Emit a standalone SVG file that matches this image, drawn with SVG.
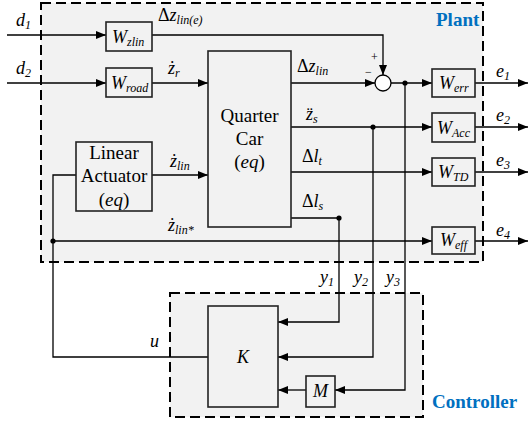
<svg xmlns="http://www.w3.org/2000/svg" width="529" height="425" viewBox="0 0 529 425">
<style>
.frame{fill:#f2f2f2;stroke:#000;stroke-width:2;stroke-dasharray:10,5}
.blk{fill:#f2f2f2;stroke:#222;stroke-width:1.6}
.ln{fill:none;stroke:#000;stroke-width:1.3}
.arr{marker-end:url(#ah)}
.v{font-size:18px;font-style:italic}
.n{font-size:19px}
.s{font-size:12px;font-style:italic}
.t{font-size:19px;font-weight:bold;fill:#0070C0}
.pm{font-size:12px}
</style>
<defs>
<marker id="ah" viewBox="0 0 10 8" refX="10" refY="4" markerWidth="10" markerHeight="8" markerUnits="userSpaceOnUse" orient="auto">
<path d="M0,0 L10,4 L0,8 z" fill="#000"/>
</marker>
</defs>
<rect class="frame" x="41" y="3" width="442" height="259"/>
<rect class="frame" x="170" y="293" width="253" height="124"/>

<g id="connectors">
<line class="ln arr" x1="7" y1="35" x2="106" y2="35"/>
<line class="ln arr" x1="7" y1="83" x2="106" y2="83"/>
<polyline class="ln arr" points="152,35 383,35 383,75"/>
<line class="ln arr" x1="152" y1="83" x2="208" y2="83"/>
<line class="ln arr" x1="152" y1="175" x2="208" y2="175"/>
<line class="ln arr" x1="291" y1="83" x2="375" y2="83"/>
<line class="ln arr" x1="391" y1="83" x2="432" y2="83"/>
<line class="ln arr" x1="475" y1="83" x2="528" y2="83"/>
<line class="ln arr" x1="291" y1="127" x2="432" y2="127"/>
<line class="ln arr" x1="475" y1="127" x2="528" y2="127"/>
<line class="ln arr" x1="291" y1="172" x2="432" y2="172"/>
<line class="ln arr" x1="475" y1="172" x2="528" y2="172"/>
<line class="ln arr" x1="53" y1="241" x2="432" y2="241"/>
<line class="ln arr" x1="475" y1="241" x2="528" y2="241"/>
<polyline class="ln arr" points="291,218 339,218 339,322 278,322"/>
<polyline class="ln arr" points="373,127 373,357 278,357"/>
<polyline class="ln arr" points="405,83 405,390 335,390"/>
<line class="ln arr" x1="306" y1="390" x2="278" y2="390"/>
<polyline class="ln" points="208,357 53,357 53,175 76,175"/>
<circle cx="405" cy="83" r="2.6" fill="#000"/>
<circle cx="373" cy="127" r="2.6" fill="#000"/>
<circle cx="339" cy="218" r="2.6" fill="#000"/>
<circle cx="53" cy="241" r="2.6" fill="#000"/>
</g>

<g font-family="'Liberation Serif', 'Times New Roman', serif" fill="#000">
<text class="t" x="436" y="26">Plant</text>
<text class="t" x="432" y="408">Controller</text>

<g id="inputs">
<text class="v" x="16" y="26">d<tspan class="s" dy="3">1</tspan></text>
<text class="v" x="16" y="74">d<tspan class="s" dy="3">2</tspan></text>
</g>

<g id="Wzlin">
<rect class="blk" x="106" y="22" width="46" height="29"/>
<text class="v" x="112" y="43">W<tspan class="s" dy="3">zlin</tspan></text>
</g>
<text class="v" x="158" y="21"><tspan font-style="normal">Δ</tspan>z<tspan class="s" dy="3">lin(e)</tspan></text>

<g id="Wroad">
<rect class="blk" x="106" y="68" width="46" height="29"/>
<text class="v" x="111" y="89">W<tspan class="s" dy="3">road</tspan></text>
</g>
<text class="v" x="168" y="74">ż<tspan class="s" dy="3">r</tspan></text>

<g id="LinearActuator">
<rect class="blk" x="76" y="142" width="76" height="69"/>
<text class="n" x="114" y="159" text-anchor="middle">Linear</text>
<text class="n" x="114" y="182" text-anchor="middle">Actuator</text>
<text class="n" x="114" y="206" text-anchor="middle">(<tspan font-style="italic">eq</tspan>)</text>
</g>
<text class="v" x="170" y="167">ż<tspan class="s" dy="3">lin</tspan></text>
<text class="v" x="168" y="231">ż<tspan class="s" dy="3">lin*</tspan></text>

<g id="QuarterCar">
<rect class="blk" x="208" y="51" width="83" height="176"/>
<text class="n" x="249.5" y="122" text-anchor="middle">Quarter</text>
<text class="n" x="249.5" y="145" text-anchor="middle">Car</text>
<text class="n" x="249.5" y="168" text-anchor="middle">(<tspan font-style="italic">eq</tspan>)</text>
</g>
<text class="v" x="297" y="72"><tspan font-style="normal">Δ</tspan>z<tspan class="s" dy="3">lin</tspan></text>
<text class="v" x="306" y="120">z̈<tspan class="s" dy="3">s</tspan></text>
<text class="v" x="302" y="162"><tspan font-style="normal">Δ</tspan>l<tspan class="s" dy="3">t</tspan></text>
<text class="v" x="302" y="207"><tspan font-style="normal">Δ</tspan>l<tspan class="s" dy="3">s</tspan></text>

<g id="sum">
<circle cx="383" cy="83" r="8" fill="#fff" stroke="#000" stroke-width="1.3"/>
<text class="pm" x="371" y="61">+</text>
<text class="pm" x="365" y="76">−</text>
</g>

<g id="Werr">
<rect class="blk" x="432" y="69" width="43" height="28"/>
<text class="v" x="439" y="89">W<tspan class="s" dy="3">err</tspan></text>
</g>
<g id="WAcc">
<rect class="blk" x="432" y="113" width="43" height="29"/>
<text class="v" x="437" y="134">W<tspan class="s" dy="3">Acc</tspan></text>
</g>
<g id="WTD">
<rect class="blk" x="432" y="158" width="43" height="28"/>
<text class="v" x="438" y="178">W<tspan class="s" dy="3">TD</tspan></text>
</g>
<g id="Weff">
<rect class="blk" x="432" y="227" width="43" height="27"/>
<text class="v" x="440" y="246">W<tspan class="s" dy="3">eff</tspan></text>
</g>

<g id="outputs">
<text class="v" x="496" y="77">e<tspan class="s" dy="3">1</tspan></text>
<text class="v" x="496" y="121">e<tspan class="s" dy="3">2</tspan></text>
<text class="v" x="496" y="166">e<tspan class="s" dy="3">3</tspan></text>
<text class="v" x="496" y="236">e<tspan class="s" dy="3">4</tspan></text>
</g>

<g id="measurements">
<text class="v" x="320" y="283">y<tspan class="s" dy="3">1</tspan></text>
<text class="v" x="354" y="283">y<tspan class="s" dy="3">2</tspan></text>
<text class="v" x="386" y="283">y<tspan class="s" dy="3">3</tspan></text>
<text class="v" x="150" y="347">u</text>
</g>

<g id="K">
<rect class="blk" x="208" y="306" width="70" height="101"/>
<text class="v" x="243" y="363" text-anchor="middle">K</text>
</g>
<g id="M">
<rect class="blk" x="306" y="376" width="29" height="31"/>
<text class="v" x="320.5" y="397" text-anchor="middle">M</text>
</g>
</g>
</svg>
